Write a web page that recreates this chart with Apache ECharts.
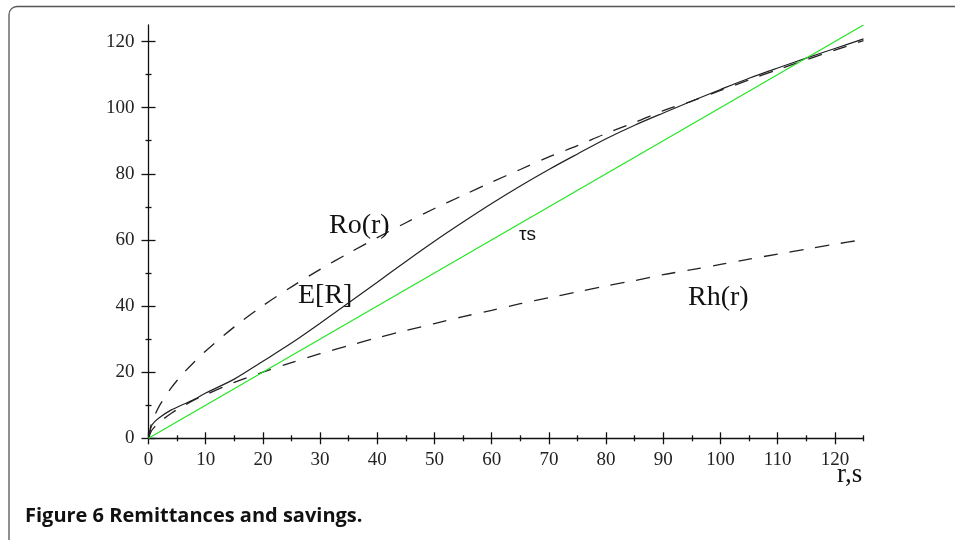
<!DOCTYPE html>
<html>
<head>
<meta charset="utf-8">
<script src="https://cdn.jsdelivr.net/npm/echarts@6/dist/echarts.min.js"></script>
<style>
  html, body { margin: 0; padding: 0; background: #fff; }
  #chart { width: 955px; height: 540px; }
</style>
</head>
<body>
<div id="chart"></div>
<script>
// r (and s) values along the horizontal axis
const rVals = [0, 0.5, 1, 2, 4, 6, 8, 10, 15, 20, 25, 30, 35, 40, 45, 50, 55, 60, 65, 70, 75, 80, 85, 90, 95, 100, 105, 110, 115, 120, 125];
// Ro(r) dashed (upper)
const roVals = [0, 4.4, 6.6, 10.1, 15.3, 19.5, 23.1, 26.4, 33.7, 40.1, 45.8, 51.1, 56.0, 60.7, 65.2, 69.5, 73.5, 77.5, 81.3, 85.1, 88.5, 92.2, 95.5, 99.1, 102.0, 105.2, 108.4, 111.5, 114.5, 117.4, 120.3];
// Rh(r) dashed (lower)
const rhVals = [0, 2.2, 3.3, 5.0, 7.6, 9.7, 11.6, 13.2, 16.9, 20.0, 22.9, 25.6, 28.0, 30.4, 32.6, 34.7, 36.8, 38.7, 40.7, 42.5, 44.3, 46.1, 47.7, 49.5, 51.0, 52.6, 54.2, 55.7, 57.2, 58.7, 60.1];
// E[R] solid
const erVals = [0, 3.6, 4.9, 6.4, 8.6, 10.2, 11.8, 13.7, 17.9, 23.3, 28.8, 34.8, 41.0, 47.2, 53.5, 59.6, 65.4, 71.0, 76.3, 81.3, 86.0, 90.6, 94.7, 98.4, 102.0, 105.5, 108.9, 112.0, 115.0, 117.9, 120.8];
// tau*s green line
const tsX = [0, 125];
const tsY = [0, 125];

// ticks
const xMajor = [0, 10, 20, 30, 40, 50, 60, 70, 80, 90, 100, 110, 120];
const xMinor = [5, 15, 25, 35, 45, 55, 65, 75, 85, 95, 105, 115, 125];
const yMajor = [0, 20, 40, 60, 80, 100, 120];
const yMinor = [10, 30, 50, 70, 90, 110];

const pairs = (xs, ys) => xs.map((x, i) => [x, ys[i]]);

const serif = 'Liberation Serif';
const axisColor = '#111';

function mkX(ticks, len, inside, withLabels, withLine) {
  return {
    type: 'value', min: 0, max: 125, position: 'bottom',
    axisLine: { show: withLine, onZero: false, lineStyle: { color: axisColor, width: 1.3 } },
    axisTick: { show: true, inside: inside, length: len, customValues: ticks, lineStyle: { color: axisColor, width: 1.3 } },
    axisLabel: withLabels ? { show: true, customValues: xMajor, margin: 12, fontFamily: serif, fontSize: 19, color: '#222' } : { show: false },
    splitLine: { show: false }
  };
}
function mkY(ticks, len, inside, withLabels, withLine) {
  return {
    type: 'value', min: 0, max: 125, position: 'left',
    axisLine: { show: withLine, onZero: false, lineStyle: { color: axisColor, width: 1.3 } },
    axisTick: { show: true, inside: inside, length: len, customValues: ticks, lineStyle: { color: axisColor, width: 1.3 } },
    axisLabel: withLabels ? { show: true, customValues: yMajor, margin: 14, fontFamily: serif, fontSize: 19, color: '#222' } : { show: false },
    splitLine: { show: false }
  };
}

const chart = echarts.init(document.getElementById('chart'), null, { renderer: 'canvas' });
const dash = [14, 12];
const option = {
  animation: false,
  backgroundColor: '#fff',
  grid: { left: 148.5, right: 91.5, top: 25, bottom: 101.7, containLabel: false },
  xAxis: [
    mkX(xMajor, 6, false, true, true),
    mkX(xMajor, 6, true, false, false),
    mkX(xMinor, 3, false, false, false),
    mkX(xMinor, 3, true, false, false)
  ],
  yAxis: [
    mkY(yMajor, 7, false, true, true),
    mkY(yMajor, 7, true, false, false),
    mkY(yMinor, 3, false, false, false),
    mkY(yMinor, 3, true, false, false)
  ],
  series: [
    { name: 'Ro(r)', type: 'line', data: pairs(rVals, roVals), smooth: 0.3, showSymbol: false,
      lineStyle: { color: '#222', width: 1.3, type: dash } },
    { name: 'Rh(r)', type: 'line', data: pairs(rVals, rhVals), smooth: 0.3, showSymbol: false,
      lineStyle: { color: '#222', width: 1.3, type: dash } },
    { name: 'E[R]', type: 'line', data: pairs(rVals, erVals), smooth: 0.3, showSymbol: false,
      lineStyle: { color: '#222', width: 1.2 } },
    { name: 'τs', type: 'line', data: pairs(tsX, tsY), showSymbol: false,
      lineStyle: { color: '#22e622', width: 1.2 } }
  ],
  graphic: [
    { type: 'rect', silent: true, shape: { x: 9, y: 6.5, width: 1000, height: 560, r: 8 },
      style: { fill: 'none', stroke: '#555', lineWidth: 1.3 } },
    { type: 'text', x: 329, y: 226, style: { text: 'Ro(r)', font: '28px "Liberation Serif"', fill: '#111', textVerticalAlign: 'middle' } },
    { type: 'text', x: 298, y: 296, style: { text: 'E[R]', font: '28px "Liberation Serif"', fill: '#111', textVerticalAlign: 'middle' } },
    { type: 'text', x: 688, y: 298, style: { text: 'Rh(r)', font: '28px "Liberation Serif"', fill: '#111', textVerticalAlign: 'middle' } },
    { type: 'text', x: 519, y: 235, style: { text: 'τs', font: '19px "Liberation Sans"', fill: '#111', textVerticalAlign: 'middle' } },
    { type: 'text', x: 837, y: 475, style: { text: 'r,s', font: '27px "Liberation Serif"', fill: '#111', textVerticalAlign: 'middle' } },
    { type: 'text', x: 25, y: 516, style: { text: 'Figure 6 Remittances and savings.', font: 'bold 20px "Open Sans"', fill: '#111', textVerticalAlign: 'middle' } }
  ]
};
chart.setOption(option);
</script>
</body>
</html>
